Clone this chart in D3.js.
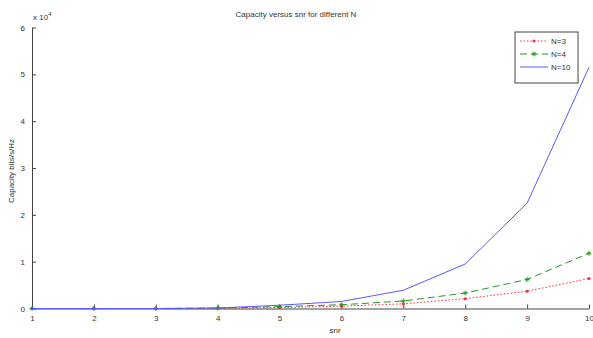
<!DOCTYPE html>
<html>
<head>
<meta charset="utf-8">
<script src="https://cdn.jsdelivr.net/npm/d3@7"></script>
<style>
  body { margin: 0; background: #fff; }
  text { font-family: "Liberation Sans", Arial, sans-serif; font-size: 8px; fill: #333; }
</style>
</head>
<body>
<svg width="593" height="338"></svg>
<script>
    // snr values and capacity (in units of 1e4 bit/s/Hz)
    const snr = [1, 2, 3, 4, 5, 6, 7, 8, 9, 10];
    const capN3 = [0, 0, 0, 0.005, 0.02, 0.05, 0.1, 0.21, 0.37, 0.64];
    const capN4 = [0, 0, 0, 0.01, 0.04, 0.08, 0.16, 0.33, 0.62, 1.18];
    const capN10 = [0, 0, 0, 0.01, 0.07, 0.15, 0.39, 0.95, 2.25, 5.15];
    const yTicks = [0, 1, 2, 3, 4, 5, 6];

    const series = [
        { name: 'N=3', values: capN3, color: '#ff2a2a', dash: '1.5,2', marker: 'dot' },
        { name: 'N=4', values: capN4, color: '#1f9a1f', dash: '7,4', marker: 'star' },
        { name: 'N=10', values: capN10, color: '#5a5aff', dash: null, marker: null }
    ];

    const svg = d3.select('svg');
    const margin = { left: 32, right: 4, top: 27.5, bottom: 29.5 };
    const width = 593, height = 338;

    const x = d3.scaleLinear().domain([1, 10]).range([margin.left, width - margin.right]);
    const y = d3.scaleLinear().domain([0, 6]).range([height - margin.bottom, margin.top]);

    // axes with inward ticks
    const xAxis = svg.append('g')
        .attr('transform', `translate(0,${y(0)})`)
        .call(d3.axisBottom(x).tickValues(snr).tickFormat(d3.format('d'))
            .tickSizeInner(-4).tickSizeOuter(0).tickPadding(7));
    const yAxis = svg.append('g')
        .attr('transform', `translate(${x(1)},0)`)
        .call(d3.axisLeft(y).tickValues(yTicks).tickFormat(d3.format('d'))
            .tickSizeInner(-4).tickSizeOuter(0).tickPadding(7));

    [xAxis, yAxis].forEach(a => {
        a.selectAll('path').attr('stroke', '#444');
        a.selectAll('line').attr('stroke', '#444');
        a.selectAll('text').style('font-size', '8px').attr('fill', '#333');
    });

    svg.append('text')
        .attr('x', x(1) + 1).attr('y', 20)
        .html('x 10<tspan dy="-4" style="font-size:6px">4</tspan>');

    svg.append('text')
        .attr('x', 296).attr('y', 17)
        .attr('text-anchor', 'middle')
        .text('Capacity versus snr for different N');

    svg.append('text')
        .attr('x', 335).attr('y', 333)
        .attr('text-anchor', 'middle')
        .text('snr');

    svg.append('text')
        .attr('transform', `translate(14,${(y(0) + y(6)) / 2 + 3}) rotate(-90)`)
        .attr('text-anchor', 'middle')
        .text('Capacity bits/s/Hz');

    const line = d3.line()
        .x((d, i) => x(snr[i]))
        .y(d => y(d));

    const drawMarker = (sel, s, cx, cy) => {
        if (s.marker === 'dot') {
            sel.append('circle').attr('cx', cx).attr('cy', cy).attr('r', 1.5).attr('fill', s.color);
        } else if (s.marker === 'star') {
            const r = 2.5;
            sel.append('path')
                .attr('d', `M${cx - r},${cy}H${cx + r}M${cx},${cy - r}V${cy + r}M${cx - 1.5},${cy - 1.5}L${cx + 1.5},${cy + 1.5}M${cx - 1.5},${cy + 1.5}L${cx + 1.5},${cy - 1.5}`)
                .attr('stroke', s.color).attr('stroke-width', 0.9);
        }
    };

    series.forEach(s => {
        const g = svg.append('g');
        g.append('path')
            .attr('d', line(s.values))
            .attr('fill', 'none')
            .attr('stroke', s.color)
            .attr('stroke-width', 1)
            .attr('stroke-dasharray', s.dash);
        s.values.forEach((v, i) => drawMarker(g, s, x(snr[i]), y(v)));
    });

    // legend
    const legend = svg.append('g').attr('transform', 'translate(515,32)');
    legend.append('rect')
        .attr('width', 63).attr('height', 51)
        .attr('fill', '#fff').attr('stroke', '#444');
    series.forEach((s, i) => {
        const ly = 9 + i * 13;
        legend.append('line')
            .attr('x1', 5).attr('x2', 33).attr('y1', ly).attr('y2', ly)
            .attr('stroke', s.color).attr('stroke-width', 1)
            .attr('stroke-dasharray', s.dash);
        drawMarker(legend, s, 19, ly);
        legend.append('text').attr('x', 36).attr('y', ly + 3).text(s.name);
    });
</script>
</body>
</html>
